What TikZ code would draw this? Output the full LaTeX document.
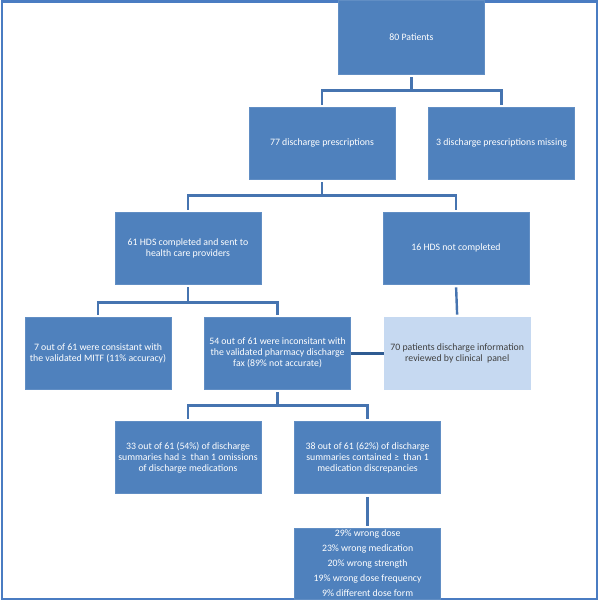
\documentclass[tikz,border=0pt]{standalone}
\usepackage{fontspec}
\setmainfont{Carlito}
\usetikzlibrary{positioning}

\definecolor{boxblue}{HTML}{4F81BD}
\definecolor{lightblue}{HTML}{C6D9F1}
\definecolor{linkblue}{HTML}{4674B0}
\definecolor{darklink}{HTML}{2E5B92}
\definecolor{frameblue}{HTML}{4A7CC2}

\begin{document}
\begin{tikzpicture}[
    x=1pt, y=1pt,
    node distance=33pt and 33pt,
    box/.style={rectangle, align=center, minimum height=72pt, minimum width=146pt, fill=boxblue, draw=boxblue!90!white, line width=0.6pt, text=white, font=\fontsize{9.8}{11}\selectfont, inner sep=0pt},
    pale/.style={box, fill=lightblue, draw=lightblue, text=black!75},
    link/.style={draw=linkblue, line width=2.4pt, shorten <=3pt, shorten >=2pt},
    bridge/.style={draw=darklink, line width=3pt}
]

% frame
\useasboundingbox (0,0) rectangle (600,-602);
\draw[frameblue, line width=2.5pt] (2,-1.5) rectangle (597,-599);

% Nodes
\node (pat) [box, minimum height=74pt] at (411.5,-37) {80 Patients};
\node (pres) [box] at (322,-143) {77 discharge prescriptions};
\node (miss) [box, right=of pres] {3 discharge prescriptions missing};
\node (hds) [box] at (188,-248) {61 HDS completed and sent to\\health care providers};
\node (nothds) [box] at (456,-248) {16 HDS not completed};
\node (cons) [box] at (98,-353) {7 out of 61 were consistant with\\the validated MITF (11\% accuracy)};
\node (incons) [box, right=of cons] {54 out of 61 were inconsitant with\\the validated pharmacy discharge\\fax (89\% not accurate)};
\node (panel) [pale, right=of incons] {70 patients discharge information\\reviewed by clinical\ \ panel};
\node (omis) [box] at (188,-457.5) {33 out of 61 (54\%) of discharge\\summaries had ≥\ \ than 1 omissions\\of discharge medications};
\node (disc) [box, right=of omis] {38 out of 61 (62\%) of discharge\\summaries contained ≥\ \ than 1\\medication discrepancies};
\node (errs) [box, minimum height=71pt, below=34pt of disc, font=\fontsize{9.8}{15}\selectfont] {29\% wrong dose\\23\% wrong medication\\20\% wrong strength\\19\% wrong dose frequency\\9\% different dose form};

% Links
\draw [link] (pat.south) -- ++(0,-16) -| (pres.north);
\draw [link] (pat.south) -- ++(0,-16) -| (miss.north);
\draw [link] (pres.south) -- ++(0,-16) -| (hds.north);
\draw [link] (pres.south) -- ++(0,-16) -| (nothds.north);
\draw [link] (hds.south) -- ++(0,-18) -| (cons.north);
\draw [link] (hds.south) -- ++(0,-18) -| (incons.north);
\draw [link] (nothds.south) -- (panel.north);
\draw [link] (incons.south) -- ++(0,-16) -| (omis.north);
\draw [link] (incons.south) -- ++(0,-16) -| (disc.north);
\draw [link] (disc.south) -- (errs.north);
\draw [bridge] (incons.east) -- (panel.west);

\end{tikzpicture}
\end{document}
